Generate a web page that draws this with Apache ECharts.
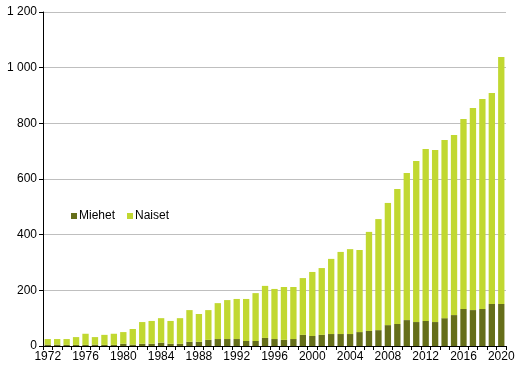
<!DOCTYPE html>
<html>
<head>
<meta charset="utf-8">
<script src="https://cdn.jsdelivr.net/npm/echarts@6/dist/echarts.min.js"></script>
<style>html,body{margin:0;padding:0;background:#fff}#c{width:523px;height:369px}</style>
</head>
<body>
<div id="c"></div>
<script>
const years = ['1972','1973','1974','1975','1976','1977','1978','1979','1980','1981','1982','1983','1984','1985','1986','1987','1988','1989','1990','1991','1992','1993','1994','1995','1996','1997','1998','1999','2000','2001','2002','2003','2004','2005','2006','2007','2008','2009','2010','2011','2012','2013','2014','2015','2016','2017','2018','2019','2020'];
const miehet = [5,5,4,4,4,5,4,4,8,5,8,8,12,8,8,15,15,22,25,25,25,18,18,29,25,22,25,40,36,40,43,43,43,50,54,57,75,79,93,86,90,86,100,111,133,129,133,151,151];
const totals = [25,25,25,32,44,32,40,44,50,61,86,90,100,90,100,129,115,129,154,165,169,169,190,216,205,212,212,244,266,280,313,338,348,345,410,456,514,564,622,665,708,704,740,758,816,855,887,909,1038];
const naiset = totals.map((t,i)=>t-miehet[i]);
const yTicks = [0,200,400,600,800,1000,1200];

const chart = echarts.init(document.getElementById('c'));
const font = 'Liberation Sans, Arial, sans-serif';
chart.setOption({
  animation:false,
  grid:{left:43,right:17,top:12,bottom:23,containLabel:false},
  legend:{
    left:71, top:210, padding:0, itemWidth:6, itemHeight:6, itemGap:12, icon:'rect',
    textStyle:{fontFamily:font,fontSize:12,color:'#000',padding:[0,0,0,-3]},
    data:['Miehet','Naiset']
  },
  xAxis:{
    type:'category', data:years,
    axisLine:{lineStyle:{color:'#000',width:1}},
    axisTick:{show:true,interval:0,length:4,lineStyle:{color:'#000'}},
    axisLabel:{interval:3,fontFamily:font,fontSize:12,color:'#000',margin:5}
  },
  yAxis:{
    type:'value', min:0, max:1200, interval:200,
    axisLine:{show:true,lineStyle:{color:'#000',width:1}},
    axisTick:{show:true,length:4,lineStyle:{color:'#000'}},
    splitLine:{lineStyle:{color:'#BFBFBF',width:1}},
    axisLabel:{fontFamily:font,fontSize:12,color:'#000',margin:6,
      formatter:v=>String(v).replace(/\B(?=(\d{3})+(?!\d))/g,' ')}
  },
  series:[
    {name:'Miehet',type:'bar',stack:'a',data:miehet,barCategoryGap:'33%',itemStyle:{color:'#656E19'}},
    {name:'Naiset',type:'bar',stack:'a',data:naiset,barCategoryGap:'33%',itemStyle:{color:'#C1D831'}}
  ]
});
</script>
</body>
</html>
